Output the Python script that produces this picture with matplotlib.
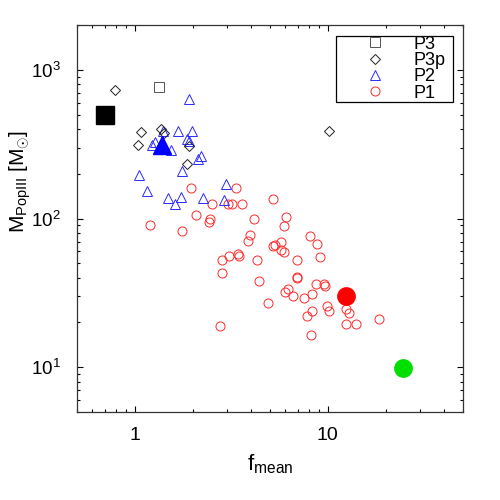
import matplotlib
matplotlib.use("Agg")
import matplotlib.pyplot as plt
from matplotlib import ticker

plt.rcParams['font.family'] = ['Liberation Sans', 'DejaVu Sans']
plt.rcParams['mathtext.fontset'] = 'custom'
plt.rcParams['mathtext.rm'] = 'Liberation Sans'
plt.rcParams['mathtext.it'] = 'Liberation Sans:italic'
plt.rcParams['mathtext.bf'] = 'Liberation Sans:bold'

# ---------------- data ----------------
p3_f = [1.33]
p3_m = [760]

p3p_f = [0.79, 1.07, 1.04, 1.36, 1.42, 1.90, 1.87, 10.2]
p3p_m = [730, 380, 310, 400, 375, 308, 233, 385]

p2_f = [1.91, 1.68, 1.98, 1.39, 1.27, 1.22, 1.54, 1.86, 1.91, 2.21,
        2.11, 1.76, 1.05, 2.96, 1.16, 1.49, 1.74, 1.61, 2.24, 2.89]
p2_m = [636, 385, 385, 390, 329, 310, 289, 341, 334, 264,
        250, 208, 195, 170, 152, 137, 140, 126, 137, 134]

p1_f = [1.95, 3.33, 2.50, 3.05, 3.18, 3.60, 5.20, 2.07, 2.45, 2.41,
        4.15, 6.05, 5.93, 1.19, 1.76, 3.95, 3.87, 8.10, 8.80, 5.22,
        5.30, 5.70, 5.75, 5.93, 9.10, 2.82, 3.07, 3.42, 3.48, 4.31,
        6.90, 2.82, 4.40, 6.90, 6.90, 8.66, 9.56, 9.70, 5.97, 6.22,
        6.63, 7.50, 8.28, 4.92, 9.95, 10.1, 8.30, 7.76, 12.5, 12.9,
        18.5, 12.5, 14.0, 8.20, 2.76]
p1_m = [160, 160, 125, 125, 125, 125, 135, 105, 99, 94,
        100, 102, 89, 91, 83, 78, 71, 76, 67, 65,
        66, 70, 61, 59.5, 55, 53, 56, 58, 56, 53,
        53, 43, 38, 39.5, 40.5, 36, 36, 35, 32, 33.4,
        30, 29, 31, 27, 26, 24, 24, 22, 24.5, 23,
        21, 19.5, 19.5, 16.5, 19]

big_p3 = (0.70, 500)
big_p2 = (1.38, 312)
big_p1 = (12.5, 30)
big_green = (24.6, 9.9)

labels = ['P3', 'P3p', 'P2', 'P1']
xlim = (0.5, 50)
ylim = (5, 2000)
xtick_vals = [1, 10]
xtick_labels = ['1', '10']

# ---------------- figure ----------------
fig = plt.figure(figsize=(5, 5), dpi=100)
ax = fig.add_axes([0.154, 0.176, 0.771, 0.774])
ax.set_xscale('log')
ax.set_yscale('log')

ms_small = 6.5
lw_m = 0.7
ax.plot(p1_f, p1_m, linestyle='none', marker='o', ms=ms_small, mfc='none',
        mec='#ff2a2a', mew=lw_m, label=labels[3], zorder=3)
ax.plot(p2_f, p2_m, linestyle='none', marker='^', ms=ms_small, mfc='none',
        mec='#2a2aff', mew=lw_m, label=labels[2], zorder=4)
ax.plot(p3p_f, p3p_m, linestyle='none', marker='D', ms=4.6, mfc='none',
        mec='#222222', mew=lw_m, label=labels[1], zorder=5)
ax.plot(p3_f, p3_m, linestyle='none', marker='s', ms=ms_small, mfc='none',
        mec='#555555', mew=lw_m, label=labels[0], zorder=5)

ax.plot([big_p3[0]], [big_p3[1]], linestyle='none', marker='s', ms=12.3,
        color='black', zorder=6)
ax.plot([big_p2[0]], [big_p2[1]], linestyle='none', marker='^', ms=12.3,
        color='blue', zorder=6)
ax.plot([big_p1[0]], [big_p1[1]], linestyle='none', marker='o', ms=12.5,
        color='red', zorder=6)
ax.plot([big_green[0]], [big_green[1]], linestyle='none', marker='o', ms=12.5,
        color='#00e000', zorder=6)

ax.set_xlim(*xlim)
ax.set_ylim(*ylim)

ax.xaxis.set_major_locator(ticker.FixedLocator(xtick_vals))
ax.xaxis.set_major_formatter(ticker.FixedFormatter(xtick_labels))
ax.xaxis.set_minor_locator(ticker.LogLocator(base=10, subs=range(2, 10)))
ax.xaxis.set_minor_formatter(ticker.NullFormatter())
ax.yaxis.set_major_locator(ticker.LogLocator(base=10))
ax.yaxis.set_minor_locator(ticker.LogLocator(base=10, subs=range(2, 10)))
ax.yaxis.set_minor_formatter(ticker.NullFormatter())

ax.tick_params(which='both', direction='in', top=True, right=True, width=0.8)
ax.tick_params(which='major', length=4)
ax.tick_params(which='minor', length=2.3)
ax.tick_params(axis='x', which='major', labelsize=14, pad=10.8)
ax.tick_params(axis='y', which='major', labelsize=13.5, pad=12)
for s in ax.spines.values():
    s.set_linewidth(0.9)
    s.set_color('#333333')

ax.set_xlabel(r'$\mathrm{f_{mean}}$', fontsize=16)
ax.xaxis.set_label_coords(0.5, -0.105)
ax.set_ylabel(r'$\mathrm{M_{PopIII}\ [M_{\odot}]}$', fontsize=15)
ax.yaxis.set_label_coords(-0.113, 0.597)

handles, labs = ax.get_legend_handles_labels()
order = [labs.index(l) for l in labels]
leg = ax.legend([handles[i] for i in order], [labs[i] for i in order],
                loc='upper left', bbox_to_anchor=(0.6719, 0.7724, 0.3035, 0.2),
                mode='expand', borderaxespad=0, fontsize=13, numpoints=1,
                fancybox=False, framealpha=1, edgecolor='black',
                labelspacing=-0.04, handlelength=4.33, handletextpad=-0.06,
                borderpad=0.0, handleheight=0.7)
leg.get_frame().set_linewidth(0.9)

fig.savefig('out.png', dpi=100)
